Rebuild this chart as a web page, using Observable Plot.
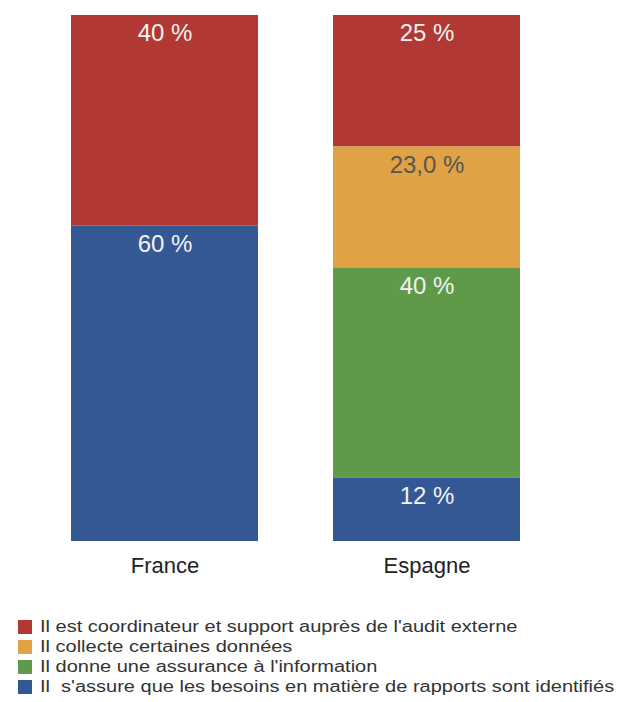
<!DOCTYPE html>
<html>
<head>
<meta charset="utf-8">
<script src="https://cdn.jsdelivr.net/npm/d3@7"></script>
<script src="https://cdn.jsdelivr.net/npm/@observablehq/plot@0.6"></script>
<style>
  html, body { margin: 0; padding: 0; background: #fff; }
  body { width: 621px; font-family: "Liberation Sans", Arial, sans-serif; overflow: hidden; }
  #legend { padding: 27px 0 0 18px; }
  .item { display: flex; align-items: center; height: 20px; font-size: 16px; color: #333; }
  .sw { width: 14px; height: 14px; margin-right: 8px; flex: none; }
  .tx { display: inline-block; white-space: pre; transform: scaleX(1.25); transform-origin: left center; }
</style>
</head>
<body>
<div id="chart"></div>
<div id="legend"></div>
<script>
const countries = ["France", "Espagne"];
const categories = [
  "Il est coordinateur et support auprès de l'audit externe",
  "Il collecte certaines données",
  "Il donne une assurance à l'information",
  "Il  s'assure que les besoins en matière de rapports sont identifiés"
];
const colors = ["#b13833", "#e0a244", "#5f9a4b", "#345893"];
const labelColors = ["#f2f2f2", "#555555", "#f2f2f2", "#f2f2f2"];
// values per category index, per country
const franceValues = [40, 0, 0, 60];
const espagneValues = [25, 23, 40, 12];
const franceLabels = ["40 %", "", "", "60 %"];
const espagneLabels = ["25 %", "23,0 %", "40 %", "12 %"];

const data = [];
categories.forEach((c, i) => {
  if (franceValues[i] > 0) data.push({country: countries[0], category: c, value: franceValues[i], label: franceLabels[i], lc: labelColors[i]});
  if (espagneValues[i] > 0) data.push({country: countries[1], category: c, value: espagneValues[i], label: espagneLabels[i], lc: labelColors[i]});
});

const stackOrder = categories.slice().reverse(); // bottom first

const chart = Plot.plot({
  width: 621,
  height: 590,
  marginLeft: 70,
  marginRight: 100,
  marginTop: 15,
  marginBottom: 49,
  style: {fontFamily: "'Liberation Sans', Arial, sans-serif", background: "#fff"},
  x: {domain: countries, paddingInner: 0.285, paddingOuter: 0, label: null, tickSize: 0, tickPadding: 18},
  y: {domain: [0, 100], axis: null},
  color: {domain: categories, range: colors},
  marks: [
    Plot.barY(data, Plot.stackY({x: "country", y: "value", z: "category", order: stackOrder, fill: "category", inset: 0})),
    Plot.text(data, Plot.stackY2({x: "country", y: "value", z: "category", order: stackOrder, text: "label", fill: "lc", dy: 18, fontSize: 24, lineAnchor: "middle"})),
    Plot.axisX({tickSize: 0, tickPadding: 16, fontSize: 22, fill: "#222", label: null})
  ]
});
document.getElementById("chart").appendChild(chart);

const legend = document.getElementById("legend");
categories.forEach((c, i) => {
  const d = document.createElement("div");
  d.className = "item";
  const s = document.createElement("span");
  s.className = "sw";
  s.style.background = colors[i];
  const t = document.createElement("span");
  t.className = "tx";
  t.textContent = c;
  d.appendChild(s); d.appendChild(t);
  legend.appendChild(d);
});
</script>
</body>
</html>
